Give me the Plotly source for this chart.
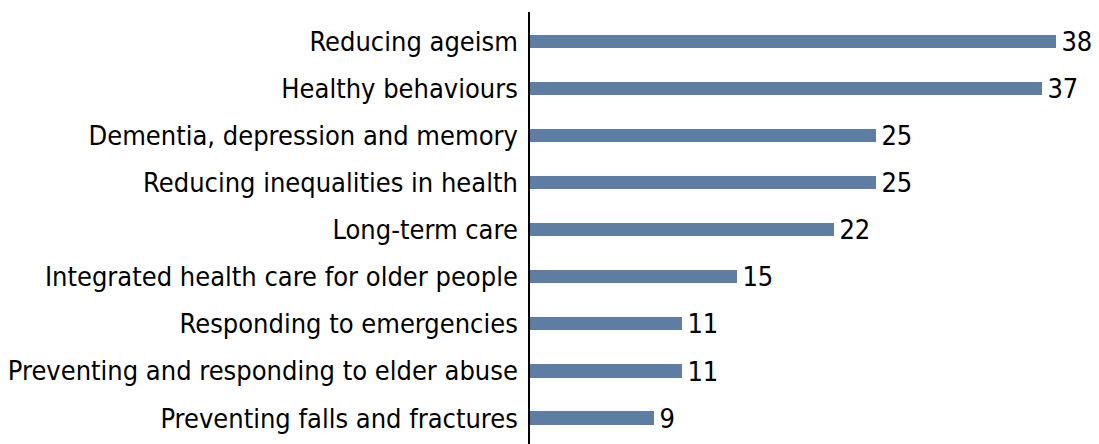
import plotly.graph_objects as go

categories = [
    "Reducing ageism",
    "Healthy behaviours",
    "Dementia, depression and memory",
    "Reducing inequalities in health",
    "Long-term care",
    "Integrated health care for older people",
    "Responding to emergencies",
    "Preventing and responding to elder abuse",
    "Preventing falls and fractures",
]
values = [38, 37, 25, 25, 22, 15, 11, 11, 9]

FONT = "Liberation Sans Narrow, DejaVu Sans Condensed, sans-serif"

fig = go.Figure(
    go.Bar(
        x=values,
        y=categories,
        orientation="h",
        marker=dict(color="#5d7da2", line=dict(width=0)),
        width=0.28,
        text=["\u200a" + str(v) for v in values],
        textposition="outside",
        constraintext="none",
        textfont=dict(family=FONT, size=27, color="#000000"),
        cliponaxis=False,
        hoverinfo="skip",
    )
)

fig.update_layout(
    width=1099,
    height=444,
    margin=dict(l=530, r=2, t=12, b=0, autoexpand=False),
    paper_bgcolor="white",
    plot_bgcolor="white",
    showlegend=False,
    bargap=0,
    xaxis=dict(
        range=[0, 41],
        visible=False,
        showgrid=False,
        zeroline=False,
        automargin=False,
    ),
    yaxis=dict(
        range=[8.55, -0.62],
        showline=True,
        linecolor="#000000",
        linewidth=1.5,
        ticks="",
        showgrid=False,
        zeroline=False,
        automargin=False,
        tickfont=dict(family=FONT, size=27, color="#000000"),
        ticklabelstandoff=5,
    ),
)

fig.write_html(
    "out.html",
    config={"displayModeBar": False},
    post_script="document.body.style.margin='0';document.body.style.padding='0';",
)
